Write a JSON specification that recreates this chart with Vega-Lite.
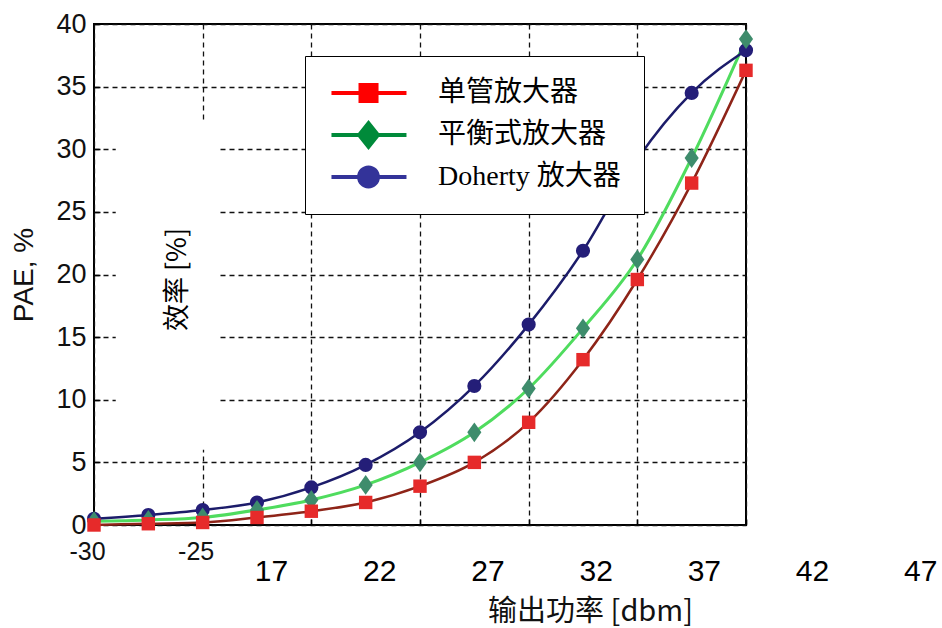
{
  "$schema": "https://vega.github.io/schema/vega-lite/v6.json",
  "autosize": {"type": "none"},
  "width": 652,
  "height": 501,
  "padding": {"left": 94, "top": 24, "right": 196, "bottom": 103},
  "background": "#ffffff",
  "config": {
    "view": {"stroke": "#000000", "strokeWidth": 2},
    "font": "Liberation Sans"
  },
  "resolve": {"scale": {"x": "independent"}, "axis": {"x": "independent"}},
  "layer": [
    {
      "layer": [
        {
          "data": {"values": [{}]},
          "mark": {"type": "rect", "fill": "#ffffff"},
          "encoding": {
            "x": {"datum": -29.0, "type": "quantitative", "scale": {"domain": [-30, 0], "nice": false, "zero": false}},
            "x2": {"datum": -24.3},
            "y": {"datum": 32.2, "type": "quantitative", "scale": {"domain": [0, 40], "nice": false, "zero": false}},
            "y2": {"datum": 6.0}
          }
        },
        {
          "data": {"values": [{"t": "效率 [%]"}]},
          "mark": {"type": "text", "angle": 270, "font": "Noto Sans CJK SC", "fontSize": 27, "align": "center", "baseline": "middle", "color": "#000000"},
          "encoding": {
            "x": {"datum": -26.13, "type": "quantitative"},
            "y": {"datum": 19.6, "type": "quantitative"},
            "text": {"field": "t"}
          }
        },
        {
          "data": {"name": "pae"},
          "transform": [{"filter": "datum.series === '单管放大器'"}],
          "mark": {"type": "line", "interpolate": "monotone", "strokeWidth": 2.5, "color": "#8e2418"},
          "encoding": {
            "x": {
              "field": "x", "type": "quantitative",
              "axis": {
                "values": [-30, -25, -20, -15, -10, -5, 0],
                "labelExpr": "datum.value == -30 ? '-30' : datum.value == -25 ? '-25' : ''",
                "grid": true, "gridDash": [5, 4], "gridColor": "#111111", "gridWidth": 1.3, "gridOpacity": 1,
                "domain": false, "ticks": true, "tickSize": -6, "tickColor": "#000000", "tickWidth": 1.5,
                "labelFontSize": 25, "labelColor": "#111111", "labelPadding": 20, "labelOffset": -7,
                "labelOverlap": false, "labelFlush": false, "title": null
              }
            },
            "y": {
              "field": "pae", "type": "quantitative",
              "axis": {
                "values": [0, 5, 10, 15, 20, 25, 30, 35, 40],
                "grid": true, "gridDash": [5, 4], "gridColor": "#111111", "gridWidth": 1.3, "gridOpacity": 1,
                "domain": false, "ticks": true, "tickSize": -6, "tickColor": "#000000", "tickWidth": 1.5,
                "labelFontSize": 27, "labelColor": "#111111", "labelPadding": 14, "labelFlush": false,
                "title": "PAE, %", "titleFontSize": 28, "titleFontWeight": "normal", "titleColor": "#111111", "titlePadding": 17
              }
            }
          }
        },
        {
          "data": {"name": "pae"},
          "transform": [{"filter": "datum.series === '平衡式放大器'"}],
          "mark": {"type": "line", "interpolate": "monotone", "strokeWidth": 3, "color": "#4fdc5e"},
          "encoding": {
            "x": {"field": "x", "type": "quantitative"},
            "y": {"field": "pae", "type": "quantitative"}
          }
        },
        {
          "data": {"name": "pae"},
          "transform": [{"filter": "datum.series === 'Doherty 放大器'"}],
          "mark": {"type": "line", "interpolate": "monotone", "strokeWidth": 2.5, "color": "#1c1c6a"},
          "encoding": {
            "x": {"field": "x", "type": "quantitative"},
            "y": {"field": "pae", "type": "quantitative"}
          }
        },
        {
          "data": {"name": "pae"},
          "transform": [{"filter": "datum.series === 'Doherty 放大器'"}],
          "mark": {"type": "point", "filled": true, "opacity": 1, "size": 200, "shape": "circle", "color": "#241e78"},
          "encoding": {
            "x": {"field": "x", "type": "quantitative"},
            "y": {"field": "pae", "type": "quantitative"}
          }
        },
        {
          "data": {"name": "pae"},
          "transform": [{"filter": "datum.series === '平衡式放大器'"}],
          "mark": {"type": "point", "filled": true, "opacity": 1, "size": 200, "shape": "M0,-1.4L1,0L0,1.4L-1,0Z", "color": "#3e8c6c"},
          "encoding": {
            "x": {"field": "x", "type": "quantitative"},
            "y": {"field": "pae", "type": "quantitative"}
          }
        },
        {
          "data": {"name": "pae"},
          "transform": [{"filter": "datum.series === '单管放大器'"}],
          "mark": {"type": "point", "filled": true, "opacity": 1, "size": 180, "shape": "square", "color": "#e62a2a"},
          "encoding": {
            "x": {"field": "x", "type": "quantitative"},
            "y": {"field": "pae", "type": "quantitative"}
          }
        },
        {
          "data": {"name": "pae"},
          "transform": [{"filter": "false"}],
          "mark": {"type": "point", "filled": true, "opacity": 1},
          "encoding": {
            "x": {"field": "x", "type": "quantitative"},
            "y": {"field": "pae", "type": "quantitative"},
            "shape": {
              "field": "series", "type": "nominal",
              "scale": {
                "domain": ["单管放大器", "平衡式放大器", "Doherty 放大器"],
                "range": [
                  "M-0.81,-0.154H4.96V0.154H-0.81ZM1.27,-0.77H2.81V0.77H1.27Z",
                  "M-0.81,-0.154H4.96V0.154H-0.81ZM2.04,-1.15L2.96,0L2.04,1.15L1.12,0Z",
                  "M-0.81,-0.154H4.96V0.154H-0.81ZM1.16,0A0.88,0.88,0,1,1,2.92,0A0.88,0.88,0,1,1,1.16,0Z"
                ]
              },
              "legend": {
                "title": null, "orient": "none", "legendX": 211, "legendY": 32,
                "fillColor": "#ffffff", "strokeColor": "#000000", "padding": 23,
                "labelFont": "Liberation Serif, Noto Sans CJK SC", "labelFontSize": 28, "labelColor": "#000000",
                "labelOffset": 82, "labelLimit": 400,
                "symbolSize": 676, "symbolStrokeWidth": 0, "symbolOpacity": 1, "rowPadding": 13
              }
            },
            "color": {
              "field": "series", "type": "nominal",
              "scale": {"domain": ["单管放大器", "平衡式放大器", "Doherty 放大器"], "range": ["#ff0000", "#008a3a", "#333399"]},
              "legend": {
                "title": null, "orient": "none", "legendX": 211, "legendY": 32,
                "fillColor": "#ffffff", "strokeColor": "#000000", "padding": 23,
                "labelFont": "Liberation Serif, Noto Sans CJK SC", "labelFontSize": 28, "labelColor": "#000000",
                "labelOffset": 82, "labelLimit": 400,
                "symbolSize": 676, "symbolStrokeWidth": 0, "symbolOpacity": 1, "rowPadding": 13
              }
            }
          }
        }
      ]
    },
    {
      "data": {"values": [{"o": 17}, {"o": 22}, {"o": 27}, {"o": 32}, {"o": 37}, {"o": 42}, {"o": 47}]},
      "mark": {"type": "point", "opacity": 0},
      "encoding": {
        "x": {
          "field": "o", "type": "quantitative",
          "scale": {"domain": [8.82, 48.56], "range": [0, 860], "nice": false, "zero": false},
          "axis": {
            "orient": "bottom", "values": [17, 22, 27, 32, 37, 42, 47],
            "grid": false, "domain": false, "ticks": false, "tickSize": 0,
            "labelFontSize": 30, "labelColor": "#000000", "labelOverlap": false, "labelFlush": false, "labelPadding": 7, "offset": 24,
            "title": "输出功率 [dbm]", "titleFont": "Noto Sans CJK SC", "titleFontSize": 29, "titleFontWeight": "normal",
            "titleColor": "#111111", "titleX": 496, "titleY": 62, "titleBaseline": "middle", "titleAlign": "center", "titleAngle": 0
          }
        }
      }
    }
  ],
  "datasets": {
    "pae": [
      {"series": "单管放大器", "x": -30, "pae": 0.0},
      {"series": "单管放大器", "x": -27.5, "pae": 0.1},
      {"series": "单管放大器", "x": -25, "pae": 0.2},
      {"series": "单管放大器", "x": -22.5, "pae": 0.6},
      {"series": "单管放大器", "x": -20, "pae": 1.1},
      {"series": "单管放大器", "x": -17.5, "pae": 1.8},
      {"series": "单管放大器", "x": -15, "pae": 3.1},
      {"series": "单管放大器", "x": -12.5, "pae": 5.0},
      {"series": "单管放大器", "x": -10, "pae": 8.2},
      {"series": "单管放大器", "x": -7.5, "pae": 13.2},
      {"series": "单管放大器", "x": -5, "pae": 19.6},
      {"series": "单管放大器", "x": -2.5, "pae": 27.3},
      {"series": "单管放大器", "x": 0, "pae": 36.3},
      {"series": "平衡式放大器", "x": -30, "pae": 0.3},
      {"series": "平衡式放大器", "x": -27.5, "pae": 0.4},
      {"series": "平衡式放大器", "x": -25, "pae": 0.6},
      {"series": "平衡式放大器", "x": -22.5, "pae": 1.2},
      {"series": "平衡式放大器", "x": -20, "pae": 2.0},
      {"series": "平衡式放大器", "x": -17.5, "pae": 3.2},
      {"series": "平衡式放大器", "x": -15, "pae": 5.0},
      {"series": "平衡式放大器", "x": -12.5, "pae": 7.4},
      {"series": "平衡式放大器", "x": -10, "pae": 10.9},
      {"series": "平衡式放大器", "x": -7.5, "pae": 15.7},
      {"series": "平衡式放大器", "x": -5, "pae": 21.2},
      {"series": "平衡式放大器", "x": -2.5, "pae": 29.3},
      {"series": "平衡式放大器", "x": 0, "pae": 38.8},
      {"series": "Doherty 放大器", "x": -30, "pae": 0.5},
      {"series": "Doherty 放大器", "x": -27.5, "pae": 0.8},
      {"series": "Doherty 放大器", "x": -25, "pae": 1.2},
      {"series": "Doherty 放大器", "x": -22.5, "pae": 1.8},
      {"series": "Doherty 放大器", "x": -20, "pae": 3.0},
      {"series": "Doherty 放大器", "x": -17.5, "pae": 4.8},
      {"series": "Doherty 放大器", "x": -15, "pae": 7.4},
      {"series": "Doherty 放大器", "x": -12.5, "pae": 11.1},
      {"series": "Doherty 放大器", "x": -10, "pae": 16.0},
      {"series": "Doherty 放大器", "x": -7.5, "pae": 21.9},
      {"series": "Doherty 放大器", "x": -5, "pae": 29.2},
      {"series": "Doherty 放大器", "x": -2.5, "pae": 34.5},
      {"series": "Doherty 放大器", "x": 0, "pae": 37.9}
    ]
  }
}
